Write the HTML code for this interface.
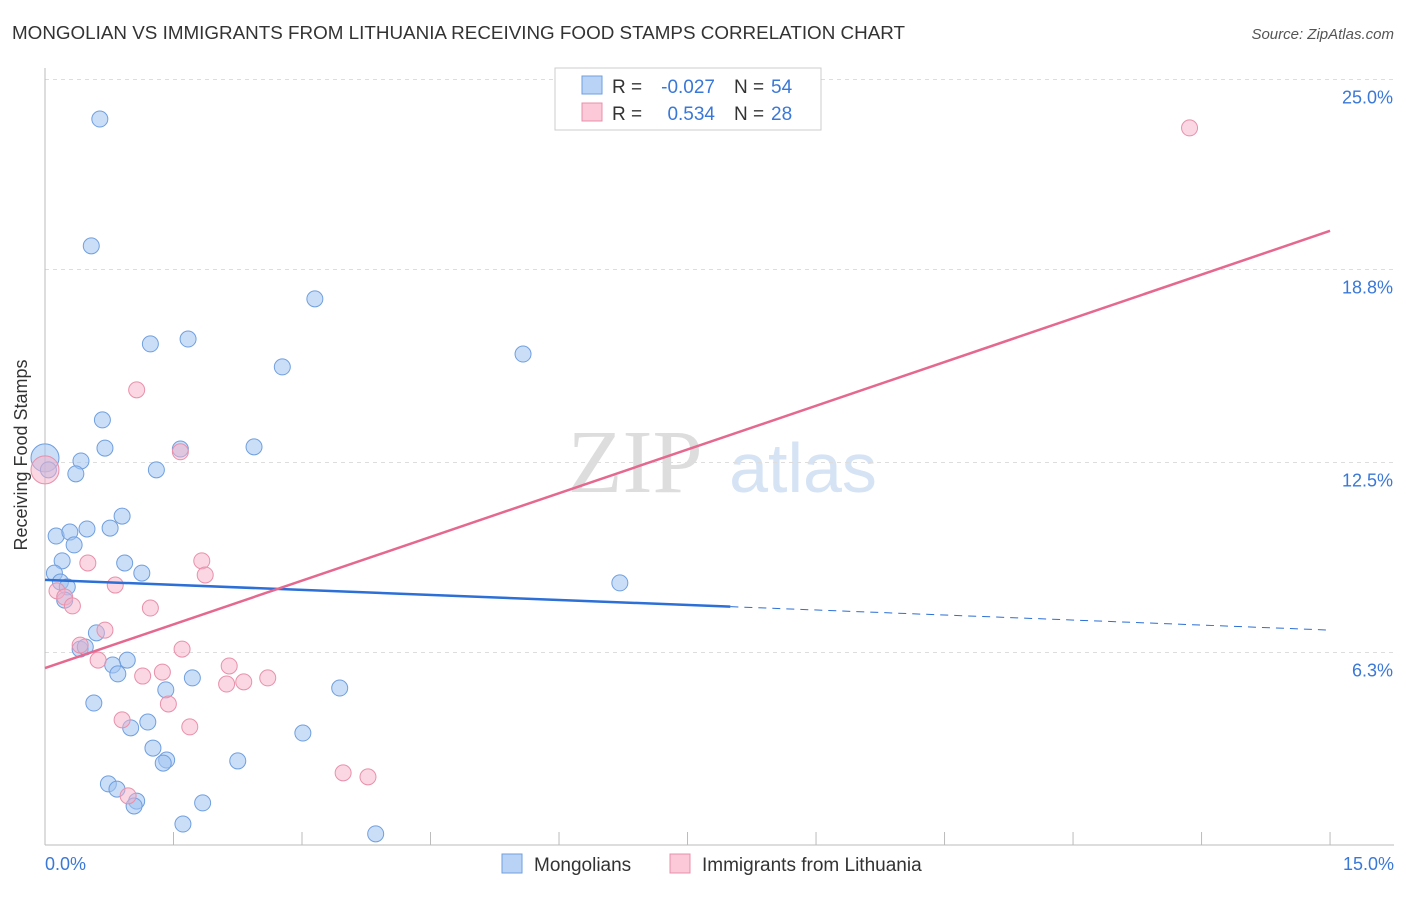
<!DOCTYPE html>
<html><head><meta charset="utf-8"><style>
body{margin:0;background:#fff;font-family:"Liberation Sans",sans-serif;}
</style></head><body>
<svg width="1406" height="892" xmlns="http://www.w3.org/2000/svg" id="svg">
<text x="12" y="39" font-size="18" fill="#333" textLength="893" lengthAdjust="spacingAndGlyphs">MONGOLIAN VS IMMIGRANTS FROM LITHUANIA RECEIVING FOOD STAMPS CORRELATION CHART</text>
<text x="1394" y="39" font-size="15" fill="#555" font-style="italic" text-anchor="end">Source: ZipAtlas.com</text>
<text x="635" y="492" font-size="90" fill="#ddd" font-family="Liberation Serif" text-anchor="middle">ZIP</text>
<text x="803" y="492" font-size="70" fill="#d5e3f5" text-anchor="middle">atlas</text>
<text x="27" y="455" font-size="18" fill="#333" text-anchor="middle" transform="rotate(-90 27 455)">Receiving Food Stamps</text>
<g id="grid"></g><g id="marks"></g>
<g>
<rect x="555" y="68" width="266" height="62" fill="#fff" stroke="#ccc"/>
<rect x="582" y="76" width="20" height="18" fill="#b8d3f5" stroke="#6f9fdf"/>
<rect x="582" y="103" width="20" height="18" fill="#fbc9d8" stroke="#e890aa"/>
<text x="612" y="93" font-size="19" fill="#333">R =</text>
<text x="715" y="93" font-size="19" fill="#3a78d8" text-anchor="end">-0.027</text>
<text x="734" y="93" font-size="19" fill="#333">N =</text>
<text x="771" y="93" font-size="19" fill="#3a78d8">54</text>
<text x="612" y="120" font-size="19" fill="#333">R =</text>
<text x="715" y="120" font-size="19" fill="#3a78d8" text-anchor="end">0.534</text>
<text x="734" y="120" font-size="19" fill="#333">N =</text>
<text x="771" y="120" font-size="19" fill="#3a78d8">28</text>
</g>
<g>
<rect x="502" y="854" width="20" height="19" fill="#b8d3f5" stroke="#6f9fdf"/>
<text x="534" y="871" font-size="19" fill="#333">Mongolians</text>
<rect x="670" y="854" width="20" height="19" fill="#fbc9d8" stroke="#e890aa"/>
<text x="702" y="871" font-size="19" fill="#333">Immigrants from Lithuania</text>
</g>
</svg>
<script>
const yTicks=[25.0,18.8,12.5,6.3];
const yTickLabels=["25.0%","18.8%","12.5%","6.3%"];
const xTickLabels=["0.0%","15.0%"];
const blueX=[0.64,0.54,3.15,1.23,1.67,2.77,5.58,0.67,0.70,1.58,2.44,0.42,0.36,1.30,0,0.04,0.13,0.29,0.49,0.76,0.90,0.34,0.20,0.93,1.13,0.11,0.18,0.26,0.23,6.71,0.60,0.41,0.47,0.96,0.79,0.85,1.41,1.72,3.44,0.57,1.20,1.00,3.01,1.26,1.42,1.38,2.25,0.74,0.84,1.07,1.04,1.84,1.61,3.86];
const blueY=[23.71,19.57,17.84,16.37,16.53,15.62,16.04,13.89,12.97,12.94,13.01,12.55,12.13,12.26,12.65,12.26,10.10,10.23,10.33,10.36,10.75,9.81,9.29,9.22,8.89,8.89,8.60,8.44,8.01,8.57,6.94,6.41,6.48,6.05,5.89,5.60,5.08,5.47,5.14,4.65,4.03,3.84,3.67,3.18,2.79,2.69,2.76,2.01,1.84,1.45,1.29,1.39,0.70,0.38];
const pinkX=[13.36,1.07,1.58,0,0.50,1.83,1.87,0.82,0.14,0.23,0.32,1.23,0.70,0.41,1.60,0.62,1.37,1.14,2.15,2.60,2.32,2.12,1.44,0.90,1.69,3.48,3.77,0.97];
const pinkY=[23.42,14.87,12.85,12.26,9.22,9.29,8.83,8.50,8.31,8.11,7.82,7.75,7.03,6.54,6.41,6.05,5.66,5.53,5.86,5.47,5.34,5.27,4.62,4.10,3.87,2.37,2.24,1.62];
const blueLine=[8.67,7.03];const blueSolidEnd=8.0;
const pinkLine=[5.79,20.06];
const X=v=>45+v*85.67, Y=v=>845.5-v*30.64;
const NS="http://www.w3.org/2000/svg";
function mk(t,a,p){const e=document.createElementNS(NS,t);for(const k in a)e.setAttribute(k,a[k]);p.appendChild(e);return e;}
const g=document.getElementById('grid'),m=document.getElementById('marks');
yTicks.forEach((t,i)=>{const l=mk('line',{x1:45,x2:1394,y1:Y(t),y2:Y(t),stroke:'#ddd','stroke-dasharray':'4,4'},g);


const tx=mk('text',{x:1393,y:Y(t)+24,'font-size':18,fill:'#3a78d8','text-anchor':'end'},g);tx.textContent=yTickLabels[i];

});
mk('line',{x1:45,x2:45,y1:68,y2:845,stroke:'#bbb'},g);
mk('line',{x1:45,x2:1394,y1:845,y2:845,stroke:'#bbb'},g);
for(let i=1;i<=10;i++){const l=mk('line',{x1:X(i*1.5),x2:X(i*1.5),y1:832,y2:845,stroke:'#bbb'},g);

}
[[0,'start',45],[1,'end',1394]].forEach(([i,a,x])=>{const t=mk('text',{x:x,y:870,'font-size':18,fill:'#3a78d8','text-anchor':a},g);t.textContent=xTickLabels[i];

});
blueX.forEach((x,i)=>{const c=mk('circle',{cx:X(x),cy:Y(blueY[i]),r:x===0?14:8,fill:'rgba(160,195,240,0.55)',stroke:'#6f9fdf','stroke-width':1},m);

});
pinkX.forEach((x,i)=>{const c=mk('circle',{cx:X(x),cy:Y(pinkY[i]),r:x===0?14:8,fill:'rgba(245,175,200,0.5)',stroke:'#e890aa','stroke-width':1},m);

});
const bAt=v=>blueLine[0]+(blueLine[1]-blueLine[0])*v/15;
let l=mk('line',{x1:X(0),y1:Y(blueLine[0]),x2:X(blueSolidEnd),y2:Y(bAt(blueSolidEnd)),stroke:'#2c6fd6','stroke-width':2.5},m);


l=mk('line',{x1:X(blueSolidEnd),y1:Y(bAt(blueSolidEnd)),x2:X(15),y2:Y(blueLine[1]),stroke:'#2c6fd6','stroke-width':1,'stroke-dasharray':'8,6'},m);


l=mk('line',{x1:X(0),y1:Y(pinkLine[0]),x2:X(15),y2:Y(pinkLine[1]),stroke:'#e5688f','stroke-width':2.5},m);


</script>
</body></html>
